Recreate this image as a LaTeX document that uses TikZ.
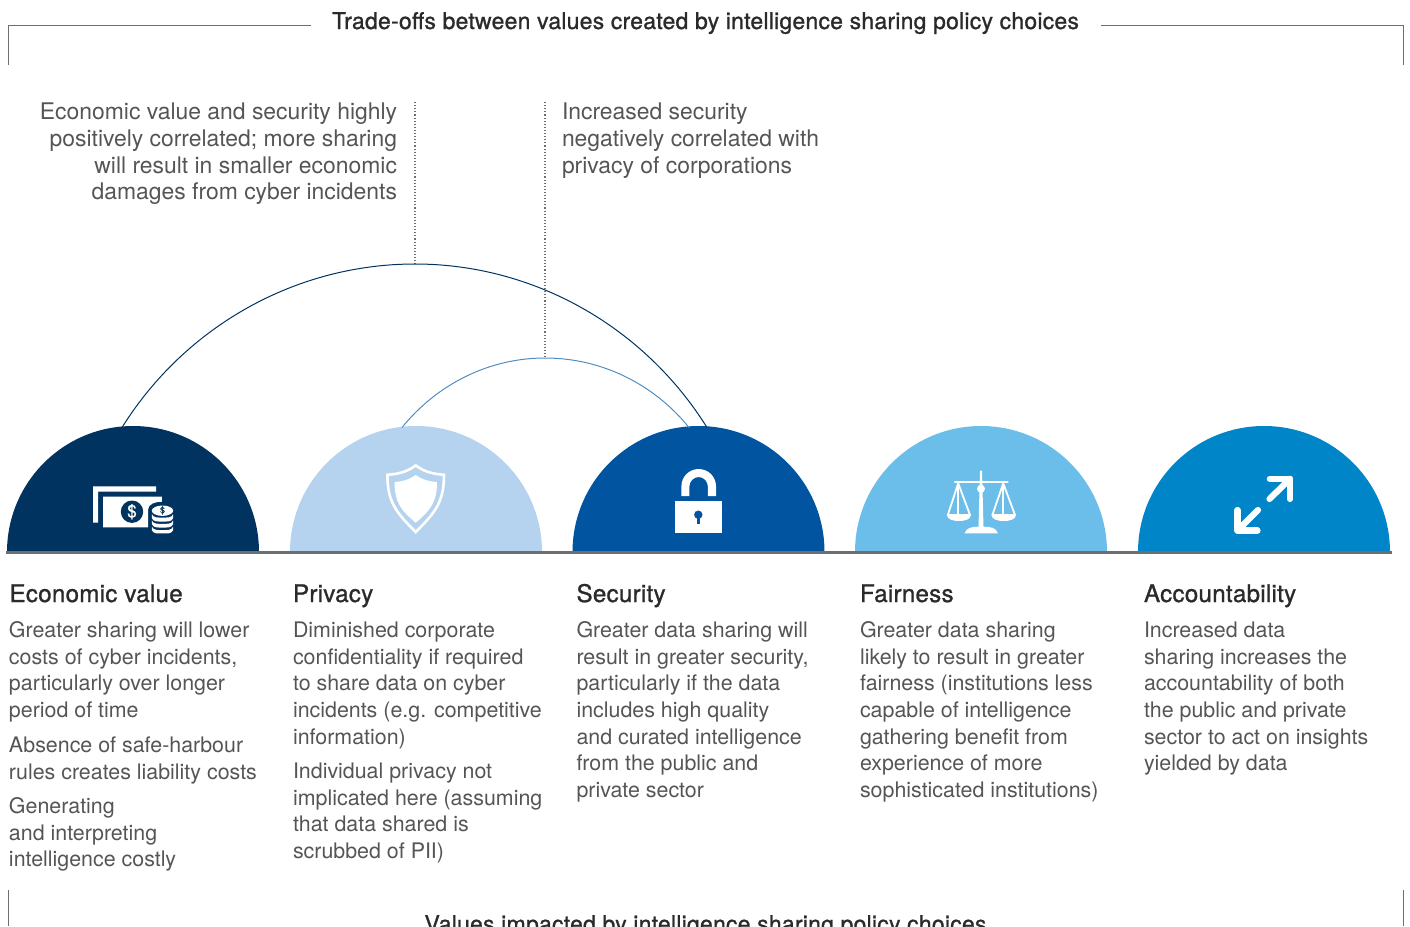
\documentclass[tikz,border=0pt]{standalone}
\usepackage{fontspec}
\setmainfont{TeX Gyre Heros}
\newfontfamily\headfont[FakeBold=1,LetterSpace=1]{TeX Gyre Heros}
\newfontfamily\dollarfont[FakeBold=1]{TeX Gyre Heros}
\usetikzlibrary{shapes.geometric,calc}
\definecolor{cEco}{HTML}{00335F}
\definecolor{cPri}{HTML}{B5D3EE}
\definecolor{cSec}{HTML}{0054A0}
\definecolor{cFai}{HTML}{6BBDEA}
\definecolor{cAcc}{HTML}{0085C9}
\definecolor{cGrey}{HTML}{6D6E71}
\definecolor{cTxt}{HTML}{555557}
\definecolor{cHead}{HTML}{2A2A2C}
\tikzset{
  x=1pt,y=-1pt,
  dome/.style={semicircle,inner sep=0pt,outer sep=0pt,minimum width=252pt,anchor=chord center},
  bodytext/.style={anchor=north west,inner sep=0pt,outer sep=0pt,align=left,text=cTxt,
    font=\fontsize{21.4}{26.6}\selectfont},
  notetext/.style={anchor=north west,inner sep=0pt,outer sep=0pt,align=left,text=cTxt,
    font=\fontsize{22.9}{26.6}\selectfont},
  headtext/.style={anchor=base west,inner sep=0pt,outer sep=0pt,text=cHead,
    font=\headfont\fontsize{24.2}{26.6}\selectfont},
  titletext/.style={anchor=base,inner sep=0pt,outer sep=0pt,text=cHead,
    font=\headfont\fontsize{23}{26.6}\selectfont},
  bracket/.style={draw=cGrey,line width=0.9pt},
  leader/.style={draw=cGrey,line width=1.1pt,dotted},
  link/.style={line width=1pt},
  icon/.style={fill=white,draw=none},
  iconline/.style={draw=white,fill=none},
}
\begin{document}
\begin{tikzpicture}
\useasboundingbox (0,0) rectangle (1410,926);
% brackets
\coordinate (tl1) at (311,25); \coordinate (tl2) at (8.5,25); \coordinate (tl3) at (8.5,65);
\coordinate (tr1) at (1101,25); \coordinate (tr2) at (1403,25); \coordinate (tr3) at (1403,65);
\coordinate (bl1) at (8.5,890); \coordinate (bl2) at (8.5,926);
\coordinate (br1) at (1403,890); \coordinate (br2) at (1403,926);
\draw[bracket] (tl1) -- (tl2) -- (tl3);
\draw[bracket] (tr1) -- (tr2) -- (tr3);
\draw[bracket] (bl1) -- (bl2);
\draw[bracket] (br1) -- (br2);
\node[titletext] (toptitle) at (705.5,29) {Trade-offs between values created by intelligence sharing policy choices};
\node[titletext] (bottitle) at (705.5,932) {Values impacted by intelligence sharing policy choices};
% notes
\node[notetext,anchor=north east,align=right] (noteA) at (397,101.2) {\strut Economic value and security highly\\positively correlated; more sharing\\will result in smaller economic\\damages from cyber incidents};
\node[notetext] (noteB) at (562,101.2) {\strut Increased security\\negatively correlated with\\privacy of corporations};
% domes
\node[dome,fill=cEco] (eco) at (133,552) {};
\node[dome,fill=cPri] (pri) at (416,552) {};
\node[dome,fill=cSec] (sec) at (698.5,552) {};
\node[dome,fill=cFai] (fai) at (981,552) {};
\node[dome,fill=cAcc] (acc) at (1264,552) {};
% arcs
\coordinate (apexA) at (415,264);
\coordinate (apexB) at (545,358);
\coordinate (leadA) at (415,102);
\coordinate (leadB) at (545,102);
\coordinate (ecoEnd) at (122,427.5);
\coordinate (secEndA) at (707,427.5);
\coordinate (priEnd) at (402,427.5);
\coordinate (secEndB) at (689,427.5);
\draw[leader] (leadA) -- (apexA);
\draw[leader] (leadB) -- (apexB);
\draw[link,draw=cEco] (ecoEnd) to[out=58,in=180,looseness=0.91] (apexA) to[out=0,in=122,looseness=0.91] (secEndA);
\draw[link,draw=cSec!55!cPri] (priEnd) to[out=51,in=180,looseness=0.9] (apexB) to[out=0,in=129,looseness=0.9] (secEndB);
% base line
\coordinate (baseL) at (6,552.7); \coordinate (baseR) at (1392,552.7);
\draw[draw=cGrey,line width=2.6pt] (baseL) -- (baseR);
% money icon
\fill[icon] (93,486.3) -- (156,486.3) -- (156,491.7) -- (98,491.7) -- (98,522.7) -- (93,522.7) -- cycle;
\fill[icon] (103,496.7) -- (161.8,496.7) -- (161.8,501.7) to[out=180,in=90] (148,510) -- (148,527.3) -- (103,527.3) -- cycle;
\fill[cEco] (132,511.7) circle[radius=11.2];
\node[inner sep=0pt,text=white,font=\dollarfont\fontsize{17}{17}\selectfont] (d1) at (132,511.7) {\$};
\fill[icon] (162.5,510.7) ellipse[x radius=10.7,y radius=5.2];
\node[inner sep=0pt,text=cEco,font=\dollarfont\fontsize{9}{9}\selectfont] (d2) at (162.5,510.5) {\$};
\fill[icon] (151.8,514) to[out=-70,in=180] (162.5,517.5) to[out=0,in=-110] (173.2,514) -- (173.2,518) to[out=-110,in=0] (162.5,521.5) to[out=180,in=-70] (151.8,518) -- cycle;
\fill[icon] (151.8,520.3) to[out=-70,in=180] (162.5,523.8) to[out=0,in=-110] (173.2,520.3) -- (173.2,524) to[out=-110,in=0] (162.5,527.5) to[out=180,in=-70] (151.8,524) -- cycle;
\fill[icon] (151.8,526.5) to[out=-70,in=180] (162.5,530) to[out=0,in=-110] (173.2,526.5) -- (173.2,530) to[out=-110,in=0] (162.5,533.4) to[out=180,in=-70] (151.8,530) -- cycle;
% shield
\draw[iconline,line width=2.6pt,line join=miter] (415.7,465.5) to[out=-35,in=175] (444,474.8) to[out=-90,in=45,looseness=1.1] (415.7,532) to[out=135,in=-90,looseness=1.1] (387.4,474.8) to[out=5,in=-145] cycle;
\fill[icon] (415.7,475) to[out=-35,in=175] (437,482) to[out=-90,in=40,looseness=1.1] (415.7,522.7) to[out=140,in=-90,looseness=1.1] (394.5,482) to[out=5,in=-145] cycle;
% lock
\fill[icon] (675.4,500.7) rectangle (721.8,533.3);
\fill[icon] (681.4,496) -- (681.4,486.3) to[out=90,in=180] (698.7,469) to[out=0,in=90] (716,486.3) -- (716,496) -- (707.9,496) -- (707.9,486.8) to[out=90,in=0] (698.7,477) to[out=180,in=90] (689.3,486.8) -- (689.3,496) -- cycle;
\fill[cSec] (698.3,514.7) circle[radius=4.2];
\fill[cSec] (696.6,515) rectangle (700,523.7);
% scales
\fill[icon] (980,470.5) -- (982,470.5) -- (983.5,527) -- (978.5,527) -- cycle;
\fill[icon] (981,488.7) circle[radius=4];
\draw[iconline,line width=2.6pt,line cap=round] (955,481.8) -- (1007.5,481.8);
\fill[icon] (964.6,533.3) to[out=75,in=180] (978,526.7) -- (984,526.7) to[out=0,in=105] (997.9,533.3) -- cycle;
\draw[iconline,line width=1.8pt,line join=round] (958.2,483.3) -- (947.8,515) -- (970,515) -- cycle;
\draw[iconline,line width=1.5pt] (958.2,484) -- (958.2,515);
\fill[icon] (946.8,514.3) -- (971,514.3) to[out=-90,in=0] (959,521) to[out=180,in=-90] (946.8,514.3) -- cycle;
\draw[iconline,line width=1.8pt,line join=round] (1003.2,483.3) -- (992.4,515) -- (1015,515) -- cycle;
\draw[iconline,line width=1.5pt] (1003.2,484) -- (1003.2,515);
\fill[icon] (991.4,514.3) -- (1016,514.3) to[out=-90,in=0] (1003.5,521) to[out=180,in=-90] (991.4,514.3) -- cycle;
% arrows
\draw[iconline,line width=6.2pt,line cap=round,line join=round] (1269.8,478.8) -- (1290,478.8) -- (1290,499);
\draw[iconline,line width=6.2pt,line cap=round] (1290,478.8) -- (1269.5,499);
\draw[iconline,line width=6.2pt,line cap=round,line join=round] (1237.5,510) -- (1237.5,530.5) -- (1257.5,530.5);
\draw[iconline,line width=6.2pt,line cap=round] (1237.5,530.5) -- (1258,510);
% headings
\node[headtext] (h1) at (9.5,602) {Economic value};
\node[headtext] (h2) at (293,602) {Privacy};
\node[headtext] (h3) at (576.5,602) {Security};
\node[headtext] (h4) at (860,602) {Fairness};
\node[headtext] (h5) at (1144,602) {Accountability};
% column 1
\node[bodytext] (t1a) at (9,619) {\strut Greater sharing will lower\\costs of cyber incidents,\\particularly over longer\\period of time};
\node[bodytext] (t1b) at (9,734) {\strut Absence of safe-harbour\\rules creates liability costs};
\node[bodytext] (t1c) at (9,795) {\strut Generating\\and interpreting\\intelligence costly};
% column 2
\node[bodytext] (t2a) at (293,619) {\strut Diminished corporate\\confidentiality if required\\to share data on cyber\\incidents (e.g. competitive\\information)};
\node[bodytext] (t2b) at (293,760) {\strut Individual privacy not\\implicated here (assuming\\that data shared is\\scrubbed of PII)};
% column 3
\node[bodytext] (t3a) at (576.5,619) {\strut Greater data sharing will\\result in greater security,\\particularly if the data\\includes high quality\\and curated intelligence\\from the public and\\private sector};
% column 4
\node[bodytext] (t4a) at (860,619) {\strut Greater data sharing\\likely to result in greater\\fairness (institutions less\\capable of intelligence\\gathering benefit from\\experience of more\\sophisticated institutions)};
% column 5
\node[bodytext] (t5a) at (1144,619) {\strut Increased data\\sharing increases the\\accountability of both\\the public and private\\sector to act on insights\\yielded by data};
\end{tikzpicture}
\end{document}
